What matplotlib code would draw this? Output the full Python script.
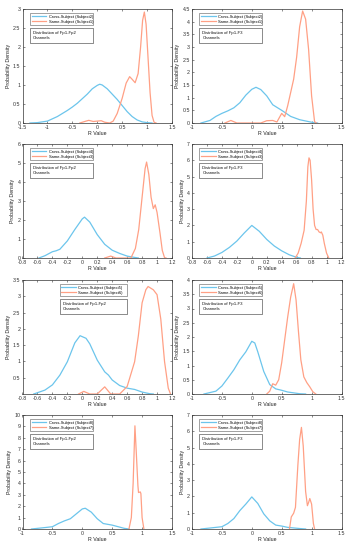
import numpy as np
import matplotlib
matplotlib.use("Agg")
import matplotlib.pyplot as plt
from matplotlib.patches import Rectangle
from matplotlib.ticker import FuncFormatter

plt.rcParams['font.family'] = ['Liberation Sans', 'DejaVu Sans']
plt.rcParams['axes.unicode_minus'] = False

# ---------------- data ----------------
p1_cross = [(-1.35, 0.0), (-1.2, 0.01), (-1.0, 0.05), (-0.8, 0.17), (-0.6, 0.33), (-0.5, 0.42),
            (-0.4, 0.52), (-0.3, 0.64), (-0.2, 0.76), (-0.1, 0.9), (0.0, 0.99), (0.05, 1.02),
            (0.1, 1.0), (0.2, 0.9), (0.3, 0.76), (0.4, 0.62), (0.5, 0.46), (0.6, 0.3),
            (0.7, 0.17), (0.8, 0.08), (0.9, 0.03), (1.0, 0.01), (1.1, 0.0)]
p1_same = [(-0.35, 0.0), (-0.25, 0.04), (-0.17, 0.07), (-0.08, 0.04), (0.0, 0.05), (0.08, 0.06),
           (0.15, 0.02), (0.25, 0.0), (0.32, 0.05), (0.4, 0.25), (0.5, 0.65), (0.58, 1.05),
           (0.65, 1.22), (0.7, 1.15), (0.76, 1.06), (0.82, 1.3), (0.87, 2.0), (0.91, 2.7),
           (0.945, 2.92), (0.98, 2.6), (1.02, 1.7), (1.06, 0.8), (1.1, 0.2), (1.14, 0.02), (1.18, 0.0)]

p2_cross = [(-0.85, 0.0), (-0.7, 0.1), (-0.6, 0.26), (-0.5, 0.38), (-0.4, 0.48), (-0.3, 0.6),
            (-0.2, 0.8), (-0.1, 1.1), (0.0, 1.33), (0.07, 1.41), (0.15, 1.32), (0.25, 1.07),
            (0.35, 0.72), (0.5, 0.5), (0.65, 0.26), (0.8, 0.13), (1.0, 0.03), (1.1, 0.0)]
p2_same = [(-0.45, 0.0), (-0.35, 0.1), (-0.25, 0.0), (0.15, 0.0), (0.25, 0.09), (0.35, 0.1),
           (0.42, 0.04), (0.5, 0.38), (0.55, 0.25), (0.6, 0.68), (0.7, 1.73), (0.75, 2.6),
           (0.8, 3.8), (0.85, 4.42), (0.9, 4.1), (0.95, 2.9), (1.0, 1.07), (1.05, 0.05), (1.08, 0.0)]

p3_cross = [(-0.58, 0.0), (-0.5, 0.12), (-0.4, 0.33), (-0.35, 0.38), (-0.3, 0.46), (-0.2, 0.9),
            (-0.1, 1.5), (0.0, 2.06), (0.03, 2.15), (0.1, 1.89), (0.2, 1.23), (0.3, 0.72),
            (0.4, 0.41), (0.5, 0.24), (0.6, 0.1), (0.7, 0.03), (0.75, 0.0)]
p3_same = [(0.3, 0.0), (0.38, 0.1), (0.45, 0.0), (0.65, 0.0), (0.71, 0.5), (0.755, 1.5),
           (0.8, 3.2), (0.84, 4.7), (0.86, 5.05), (0.89, 4.4), (0.92, 3.2), (0.95, 2.6),
           (0.975, 2.8), (1.0, 2.4), (1.04, 1.3), (1.07, 0.4), (1.1, 0.02), (1.12, 0.0)]

p4_cross = [(-0.6, 0.0), (-0.5, 0.12), (-0.4, 0.34), (-0.3, 0.65), (-0.2, 1.04), (-0.1, 1.54),
            (0.0, 2.0), (0.1, 1.64), (0.2, 1.14), (0.3, 0.74), (0.4, 0.44), (0.5, 0.2),
            (0.6, 0.04), (0.65, 0.0)]
p4_same = [(0.58, 0.0), (0.62, 0.3), (0.66, 0.9), (0.7, 1.7), (0.73, 3.5), (0.75, 5.6),
           (0.765, 6.15), (0.78, 6.0), (0.8, 4.8), (0.82, 3.0), (0.84, 2.0), (0.86, 1.75),
           (0.88, 1.75), (0.9, 1.6), (0.92, 1.55), (0.93, 1.6), (0.95, 1.4), (0.97, 0.9),
           (1.0, 0.3), (1.03, 0.0)]

p5_cross = [(-0.65, 0.0), (-0.5, 0.12), (-0.4, 0.28), (-0.3, 0.58), (-0.2, 0.99), (-0.1, 1.57),
            (-0.03, 1.79), (0.05, 1.71), (0.1, 1.54), (0.2, 1.04), (0.3, 0.68), (0.35, 0.58),
            (0.4, 0.43), (0.5, 0.26), (0.6, 0.18), (0.7, 0.14), (0.8, 0.06), (0.9, 0.01), (0.95, 0.0)]
p5_same = [(-0.05, 0.0), (0.02, 0.08), (0.1, 0.0), (0.2, 0.0), (0.3, 0.22), (0.38, 0.0),
           (0.5, 0.0), (0.6, 0.23), (0.7, 0.99), (0.75, 1.79), (0.8, 2.8), (0.85, 3.2),
           (0.88, 3.3), (0.95, 3.2), (1.0, 3.05), (1.05, 2.3), (1.1, 1.0), (1.15, 0.18), (1.18, 0.0)]

p6_cross = [(-0.8, 0.0), (-0.6, 0.1), (-0.5, 0.28), (-0.4, 0.56), (-0.3, 0.85), (-0.2, 1.2),
            (-0.1, 1.48), (0.0, 1.85), (0.05, 1.79), (0.1, 1.48), (0.2, 0.79), (0.3, 0.33),
            (0.4, 0.18), (0.5, 0.13), (0.6, 0.07), (0.8, 0.01), (0.9, 0.0)]
p6_same = [(0.25, 0.0), (0.3, 0.1), (0.35, 0.36), (0.4, 0.31), (0.45, 0.5), (0.5, 1.1),
           (0.55, 1.9), (0.6, 2.7), (0.65, 3.4), (0.7, 3.87), (0.74, 3.3), (0.78, 2.2),
           (0.82, 1.2), (0.87, 0.6), (0.92, 0.4), (0.97, 0.25), (1.02, 0.08), (1.07, 0.0)]

p7_cross = [(-0.85, 0.0), (-0.6, 0.14), (-0.5, 0.2), (-0.4, 0.48), (-0.3, 0.71), (-0.2, 0.9),
            (-0.1, 1.33), (0.0, 1.76), (0.05, 1.82), (0.15, 1.48), (0.25, 0.9), (0.35, 0.48),
            (0.5, 0.34), (0.6, 0.2), (0.7, 0.06), (0.78, 0.0)]
p7_same = [(0.78, 0.0), (0.82, 1.0), (0.85, 4.0), (0.88, 9.05), (0.9, 7.0), (0.93, 3.8),
           (0.94, 3.2), (0.97, 3.25), (0.98, 3.1), (1.0, 1.0), (1.03, 0.0)]

p8_cross = [(-0.85, 0.0), (-0.6, 0.1), (-0.5, 0.14), (-0.4, 0.34), (-0.3, 0.64), (-0.2, 1.13),
            (-0.1, 1.53), (0.0, 1.97), (0.1, 1.57), (0.2, 0.93), (0.3, 0.5), (0.4, 0.24),
            (0.5, 0.18), (0.6, 0.1), (0.8, 0.03), (0.9, 0.0)]
p8_same = [(0.63, 0.0), (0.66, 0.74), (0.7, 0.97), (0.73, 1.33), (0.77, 3.9), (0.8, 5.5),
           (0.83, 6.24), (0.86, 5.1), (0.9, 2.3), (0.93, 1.43), (0.95, 1.63), (0.97, 1.87),
           (1.0, 1.53), (1.03, 0.34), (1.05, 0.0)]

cross_labels = ['Cross-Subject (Subject2)', 'Cross-Subject (Subject2)',
                'Cross-Subject (Subject4)', 'Cross-Subject (Subject4)',
                'Cross-Subject (Subject5)', 'Cross-Subject (Subject5)',
                'Cross-Subject (Subject8)', 'Cross-Subject (Subject8)']
same_labels = ['Same-Subject (Subject1)', 'Same-Subject (Subject1)',
               'Same-Subject (Subject3)', 'Same-Subject (Subject3)',
               'Same-Subject (Subject6)', 'Same-Subject (Subject6)',
               'Same-Subject (Subject7)', 'Same-Subject (Subject7)']
channel_texts = ['Distribution of Fp1-Fp2\nChannels', 'Distribution of Fp1-F3\nChannels'] * 4

x_ranges = [(-1.5, 1.5, 0.5), (-1, 1.5, 0.5), (-0.8, 1.2, 0.2), (-0.8, 1.2, 0.2),
            (-0.8, 1.2, 0.2), (-1, 1.5, 0.5), (-1, 1.5, 0.5), (-1, 1.5, 0.5)]
y_ranges = [(0, 3, 0.5), (0, 4.5, 0.5), (0, 6, 1), (0, 7, 1),
            (0, 3.5, 0.5), (0, 4, 0.5), (0, 10, 1), (0, 7, 1)]

cross_sets = [p1_cross, p2_cross, p3_cross, p4_cross, p5_cross, p6_cross, p7_cross, p8_cross]
same_sets = [p1_same, p2_same, p3_same, p4_same, p5_same, p6_same, p7_same, p8_same]

# ---------------- figure ----------------
W, H = 349, 550
fig = plt.figure(figsize=(W / 100, H / 100), dpi=100)

col_left = [22.5, 192]
col_w = 149.5
rows = [(9, 123), (144, 258), (280, 394), (415, 529)]

BLUE = '#6CC5EC'
ORANGE = '#FFA085'
FS_TICK = 3.8
FS_LAB = 3.8
FS_LEG = 2.9
FS_TXT = 3.1

def fmt(v, pos):
    s = '%g' % round(v, 6)
    return '0' if s == '-0' else s

for i in range(8):
    r, c = divmod(i, 2)
    top, bot = rows[r]
    ax = fig.add_axes([col_left[c] / W, 1 - bot / H, col_w / W, (bot - top) / H])
    cx = np.array(cross_sets[i])
    sx = np.array(same_sets[i])
    l1, = ax.plot(cx[:, 0], cx[:, 1], color=BLUE, lw=0.9)
    l2, = ax.plot(sx[:, 0], sx[:, 1], color=ORANGE, lw=0.9)
    x0, x1, xs = x_ranges[i]
    y0, y1, ys = y_ranges[i]
    ax.set_xlim(x0, x1)
    ax.set_ylim(y0, y1)
    ax.set_xticks(np.round(np.arange(x0, x1 + xs / 2, xs), 6))
    yt = np.round(np.arange(y0, y1 + ys / 2, ys), 6)
    if i == 4:
        yt = yt[1:]
    ax.set_yticks(yt)
    ax.xaxis.set_major_formatter(FuncFormatter(fmt))
    ax.yaxis.set_major_formatter(FuncFormatter(fmt))
    ax.tick_params(direction='in', length=1.5, width=0.4, labelsize=FS_TICK, pad=1.5,
                   top=True, right=True, colors='#333333')
    for sp in ax.spines.values():
        sp.set_linewidth(0.5)
        sp.set_color('#333333')
    ax.set_xlabel('R Value', fontsize=FS_LAB, labelpad=1, color='#222222')
    ax.set_ylabel('Probability Density', fontsize=FS_LAB, labelpad=1.5, color='#222222')

    lx0, lx1 = (0.25, 0.70) if i == 4 else (0.05, 0.47)
    leg = ax.legend([l1, l2], [cross_labels[i], same_labels[i]],
                    loc='upper left', bbox_to_anchor=(lx0, 0.845, lx1 - lx0, 0.12),
                    mode='expand', fontsize=FS_LEG, frameon=True, fancybox=False,
                    handlelength=3.6, handletextpad=0.6, borderpad=0.4,
                    labelspacing=0.3, borderaxespad=0.0)
    leg.get_frame().set_linewidth(0.4)
    leg.get_frame().set_edgecolor('#333333')
    rect = Rectangle((lx0, 0.70), lx1 - lx0, 0.13, transform=ax.transAxes,
                     facecolor='white', edgecolor='#333333', linewidth=0.4, zorder=5)
    ax.add_patch(rect)
    ax.text(lx0 + 0.02, 0.70 + 0.065, channel_texts[i], transform=ax.transAxes,
            fontsize=FS_TXT, va='center', ha='left', linespacing=1.4, zorder=6,
            color='#111111')

fig.savefig('out.png', dpi=100)
